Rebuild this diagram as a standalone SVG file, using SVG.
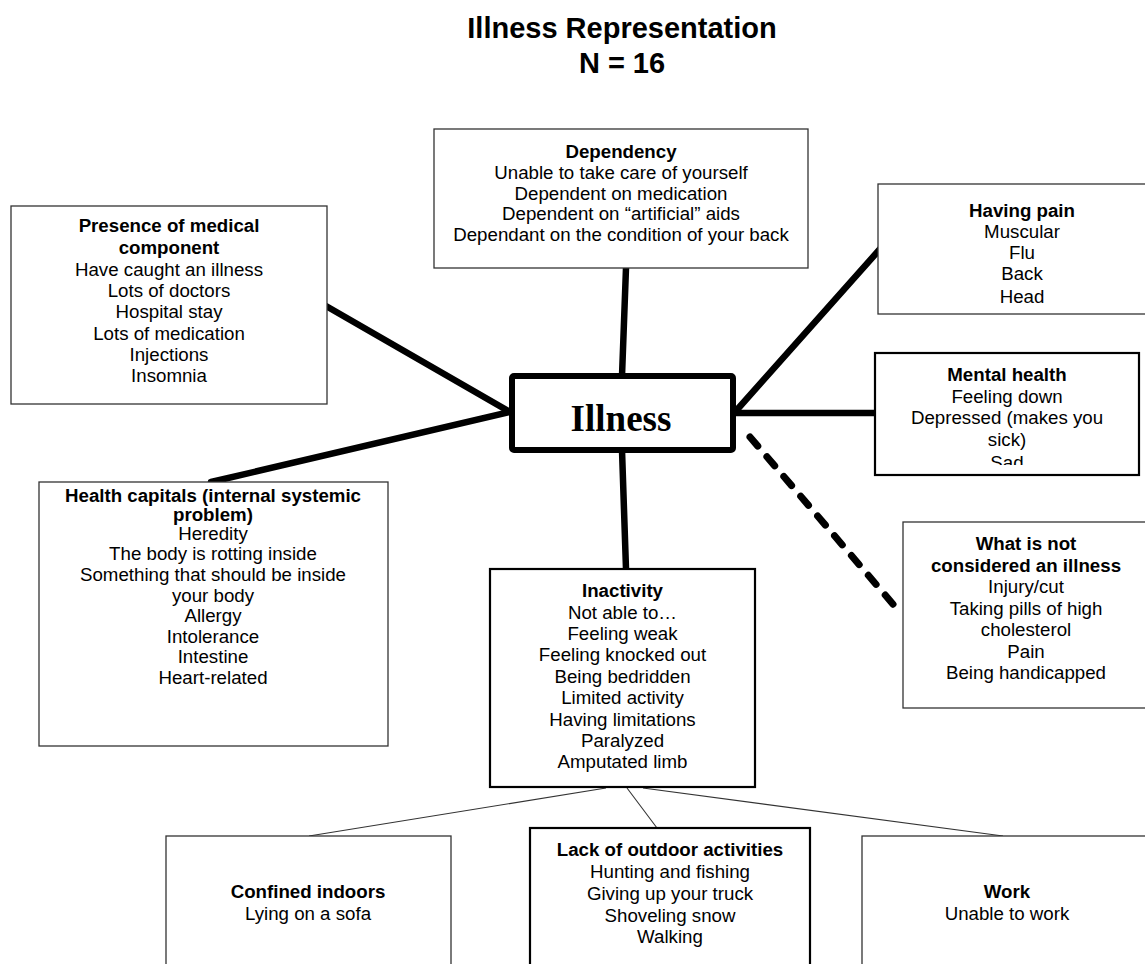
<svg xmlns="http://www.w3.org/2000/svg" width="1145" height="964" viewBox="0 0 1145 964">
  <style>
    .box { fill: #ffffff; stroke: #333333; stroke-width: 1.3; }
    .box-strong { fill: #ffffff; stroke: #000000; stroke-width: 2.2; }
    .hub { fill: #ffffff; stroke: #000000; stroke-width: 6; stroke-linejoin: round; }
    .t { font-family: "Liberation Sans", Arial, sans-serif; font-size: 18.7px; fill: #000000; text-anchor: middle; }
    .b { font-weight: bold; }
    .title { font-family: "Liberation Sans", Arial, sans-serif; font-size: 29px; font-weight: bold; text-anchor: middle; fill: #000000; }
    .hub-label { font-family: "Liberation Serif", "Times New Roman", serif; font-size: 37px; font-weight: bold; text-anchor: middle; fill: #000000; }
    .thick { stroke: #000000; stroke-width: 6.5; stroke-linecap: round; fill: none; }
    .dashed { stroke: #000000; stroke-width: 7; stroke-linecap: round; stroke-dasharray: 12 14; fill: none; }
    .thin { stroke: #333333; stroke-width: 1.1; fill: none; }
  </style>
  <defs>
    <clipPath id="clip-pain"><rect x="878" y="184" width="290" height="119"/></clipPath>
    <clipPath id="clip-mental"><rect x="875" y="353" width="264" height="112"/></clipPath>
  </defs>

  <rect width="1145" height="964" fill="#ffffff"/>

  <!-- heading -->
  <g id="title">
    <text class="title" x="622" y="38">Illness Representation</text>
    <text class="title" x="622" y="73">N = 16</text>
  </g>

  <!-- links between the categories -->
  <g id="connectors">
    <line class="thick" x1="626" y1="268" x2="622" y2="376"/>
    <line class="thick" x1="326" y1="306" x2="510" y2="412"/>
    <line class="thick" x1="211" y1="482" x2="510" y2="412"/>
    <line class="thick" x1="880" y1="249" x2="735" y2="412"/>
    <line class="thick" x1="875" y1="413" x2="736" y2="413"/>
    <line class="thick" x1="622" y1="450" x2="626" y2="569"/>
    <line class="dashed" x1="750" y1="437" x2="898" y2="610"/>
    <line class="thin" x1="606" y1="788" x2="309" y2="836"/>
    <line class="thin" x1="627" y1="788" x2="657" y2="828"/>
    <line class="thin" x1="643" y1="788" x2="1003" y2="836"/>
  </g>

  <g id="illness">
    <rect class="hub" x="512" y="376" width="221" height="74" rx="2"/>
    <text class="hub-label" x="621" y="431">Illness</text>
  </g>

  <g id="dependency">
    <rect class="box" x="434" y="129" width="374" height="139"/>
    <text class="t b" x="621" y="158">Dependency</text>
    <text class="t" x="621" y="179">Unable to take care of yourself</text>
    <text class="t" x="621" y="199.5">Dependent on medication</text>
    <text class="t" x="621" y="220">Dependent on “artificial” aids</text>
    <text class="t" x="621" y="241">Dependant on the condition of your back</text>
  </g>

  <g id="medical-component">
    <rect class="box" x="11" y="206" width="316" height="198"/>
    <text class="t b" x="169" y="232">Presence of medical</text>
    <text class="t b" x="169" y="254">component</text>
    <text class="t" x="169" y="275.5">Have caught an illness</text>
    <text class="t" x="169" y="297">Lots of doctors</text>
    <text class="t" x="169" y="318">Hospital stay</text>
    <text class="t" x="169" y="339.5">Lots of medication</text>
    <text class="t" x="169" y="361">Injections</text>
    <text class="t" x="169" y="382">Insomnia</text>
  </g>

  <g id="having-pain">
    <rect class="box" x="878" y="184" width="290" height="130"/>
    <g clip-path="url(#clip-pain)">
      <text class="t b" x="1022" y="217">Having pain</text>
      <text class="t" x="1022" y="238">Muscular</text>
      <text class="t" x="1022" y="259">Flu</text>
      <text class="t" x="1022" y="280">Back</text>
      <text class="t" x="1022" y="303">Head</text>
    </g>
  </g>

  <g id="mental-health">
    <rect class="box-strong" x="875" y="353" width="264" height="122"/>
    <g clip-path="url(#clip-mental)">
      <text class="t b" x="1007" y="381">Mental health</text>
      <text class="t" x="1007" y="402.5">Feeling down</text>
      <text class="t" x="1007" y="424">Depressed (makes you</text>
      <text class="t" x="1007" y="445.5">sick)</text>
      <text class="t" x="1007" y="469">Sad</text>
    </g>
  </g>

  <g id="not-illness">
    <rect class="box" x="903" y="522" width="247" height="186"/>
    <text class="t b" x="1026" y="550">What is not</text>
    <text class="t b" x="1026" y="572">considered an illness</text>
    <text class="t" x="1026" y="593">Injury/cut</text>
    <text class="t" x="1026" y="615">Taking pills of high</text>
    <text class="t" x="1026" y="636">cholesterol</text>
    <text class="t" x="1026" y="657.5">Pain</text>
    <text class="t" x="1026" y="679">Being handicapped</text>
  </g>

  <g id="health-capitals">
    <rect class="box" x="39" y="482" width="349" height="264"/>
    <text class="t b" x="213" y="502">Health capitals (internal systemic</text>
    <text class="t b" x="213" y="521">problem)</text>
    <text class="t" x="213" y="540">Heredity</text>
    <text class="t" x="213" y="560">The body is rotting inside</text>
    <text class="t" x="213" y="581">Something that should be inside</text>
    <text class="t" x="213" y="602">your body</text>
    <text class="t" x="213" y="622">Allergy</text>
    <text class="t" x="213" y="643">Intolerance</text>
    <text class="t" x="213" y="663">Intestine</text>
    <text class="t" x="213" y="684">Heart-related</text>
  </g>

  <g id="inactivity">
    <rect class="box-strong" x="490" y="569" width="265" height="218"/>
    <text class="t b" x="622.5" y="597">Inactivity</text>
    <text class="t" x="622.5" y="618.5">Not able to…</text>
    <text class="t" x="622.5" y="640">Feeling weak</text>
    <text class="t" x="622.5" y="661">Feeling knocked out</text>
    <text class="t" x="622.5" y="682.5">Being bedridden</text>
    <text class="t" x="622.5" y="704">Limited activity</text>
    <text class="t" x="622.5" y="725.5">Having limitations</text>
    <text class="t" x="622.5" y="747">Paralyzed</text>
    <text class="t" x="622.5" y="768">Amputated limb</text>
  </g>

  <g id="confined-indoors">
    <rect class="box" x="166" y="836" width="285" height="150"/>
    <text class="t b" x="308" y="898">Confined indoors</text>
    <text class="t" x="308" y="920">Lying on a sofa</text>
  </g>

  <g id="outdoor-activities">
    <rect class="box-strong" x="530" y="828" width="280" height="150"/>
    <text class="t b" x="670" y="856">Lack of outdoor activities</text>
    <text class="t" x="670" y="878">Hunting and fishing</text>
    <text class="t" x="670" y="900">Giving up your truck</text>
    <text class="t" x="670" y="921.5">Shoveling snow</text>
    <text class="t" x="670" y="943">Walking</text>
  </g>

  <g id="work">
    <rect class="box" x="862" y="836" width="290" height="150"/>
    <text class="t b" x="1007" y="898">Work</text>
    <text class="t" x="1007" y="920">Unable to work</text>
  </g>
</svg>
